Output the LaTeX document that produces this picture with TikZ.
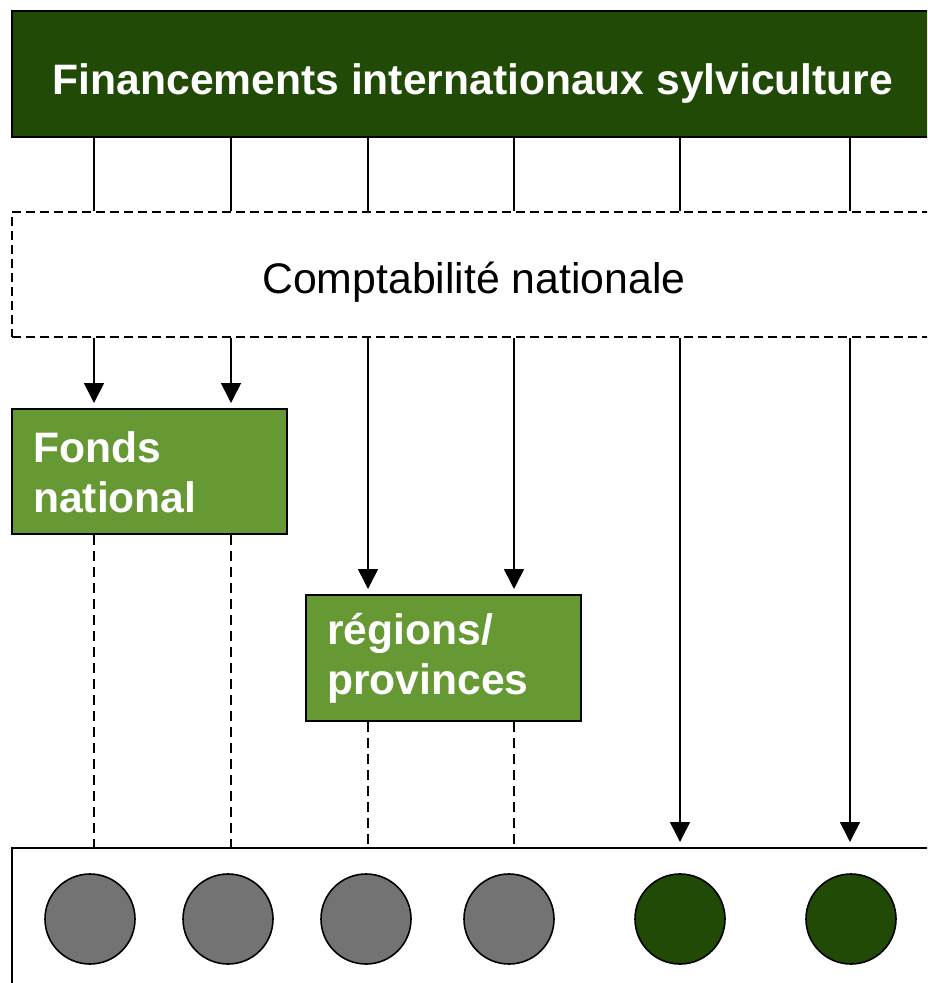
\documentclass[tikz,border=0pt]{standalone}
\usepackage{fontspec}
\setmainfont{Liberation Sans}
\usetikzlibrary{arrows.meta}
\definecolor{darkgr}{HTML}{224A07}
\definecolor{lightgr}{HTML}{669933}
\definecolor{greyc}{HTML}{737373}
\tikzset{
  boxshape/.style={rectangle, draw=black, line width=2pt, inner sep=0pt, anchor=north west},
  whitetxt/.style={text=white, font=\bfseries\fontsize{42.6}{50}\selectfont, inner sep=0pt},
  blacktxt/.style={text=black, font=\fontsize{42.8}{50}\selectfont, inner sep=0pt},
  conn/.style={draw=black, line width=1.6pt},
  arr/.style={conn, -{Triangle[length=20pt,width=20pt]}, shorten >=5pt},
  dconn/.style={draw=black, line width=1.6pt, dash pattern=on 10pt off 6pt},
  disc/.style={circle, draw=black, line width=1.6pt, minimum size=90pt, inner sep=0pt}
}
\begin{document}
\begin{tikzpicture}[x=1pt,y=-1pt]
\useasboundingbox (0,0) rectangle (927,983);
\clip (0,0) rectangle (927,983);
\fill[white] (0,0) rectangle (927,983);

% boxes
\node[boxshape, fill=darkgr, minimum width=929pt, minimum height=126pt] (fin) at (11,10) {};
\node[boxshape, fill=white, dash pattern=on 9pt off 5pt, line width=1.6pt, minimum width=929pt, minimum height=125pt] (compta) at (11,211) {};
\node[boxshape, fill=lightgr, minimum width=275pt, minimum height=125pt] (fonds) at (11,408) {};
\node[boxshape, fill=lightgr, minimum width=275pt, minimum height=126pt] (reg) at (305,594) {};
\node[boxshape, fill=white, minimum width=929pt, minimum height=200pt] (bottom) at (11,847) {};

% texts
\node[whitetxt, anchor=base] (fintxt) at (473,94) {Financements internationaux sylviculture};
\node[blacktxt, anchor=base] (comptatxt) at (474,293) {Comptabilité nationale};
\node[whitetxt, anchor=base west] (fondsA) at (33,462) {Fonds};
\node[whitetxt, anchor=base west] (fondsB) at (33,512) {national};
\node[whitetxt, anchor=base west] (regA) at (327,644) {régions/};
\node[whitetxt, anchor=base west] (regB) at (327,694) {provinces};

% discs
\node[disc, fill=greyc] (d1) at (90,919) {};
\node[disc, fill=greyc] (d2) at (228,919) {};
\node[disc, fill=greyc] (d3) at (366,919) {};
\node[disc, fill=greyc] (d4) at (509,919) {};
\node[disc, fill=darkgr] (d5) at (680,919) {};
\node[disc, fill=darkgr] (d6) at (851,919) {};

% connector columns
\coordinate (x1) at (94,0);
\coordinate (x2) at (231,0);
\coordinate (x3) at (368,0);
\coordinate (x4) at (514,0);
\coordinate (x5) at (680,0);
\coordinate (x6) at (850,0);

\foreach \c in {x1,x2,x3,x4,x5,x6}{
  \draw[conn] (fin.south -| \c) -- (compta.north -| \c);
}
\foreach \c in {x1,x2}{
  \draw[arr] (compta.south -| \c) -- (fonds.north -| \c);
  \draw[dconn] (fonds.south -| \c) -- (bottom.north -| \c);
}
\foreach \c in {x3,x4}{
  \draw[arr] (compta.south -| \c) -- (reg.north -| \c);
  \draw[dconn] (reg.south -| \c) -- (bottom.north -| \c);
}
\foreach \c in {x5,x6}{
  \draw[arr] (compta.south -| \c) -- (bottom.north -| \c);
}
\end{tikzpicture}
\end{document}
